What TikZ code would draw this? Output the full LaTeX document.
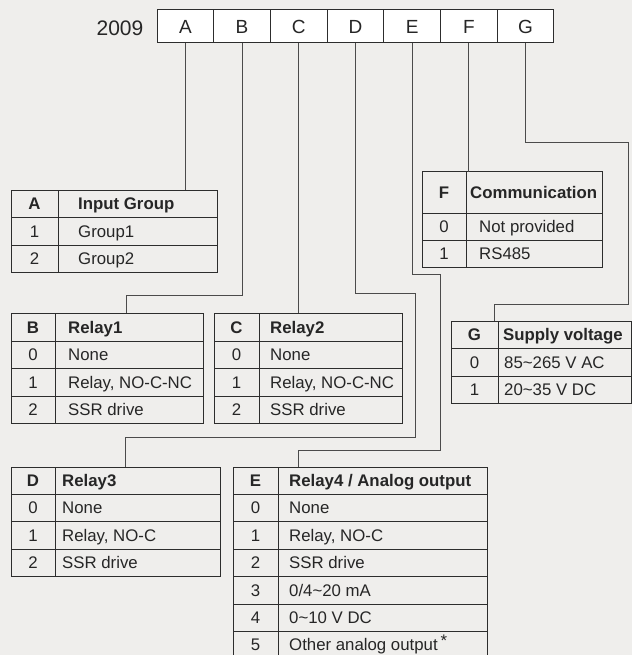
\documentclass[tikz,border=0pt]{standalone}
\usepackage{fontspec}
\setmainfont{Liberation Sans}
\definecolor{bg}{RGB}{239,238,236}
\definecolor{tline}{RGB}{45,45,45}
\definecolor{cline}{RGB}{75,75,75}
\newcommand\tl{\textasciitilde}
% #1 name, #2 x0, #3 xdiv, #4 x1, #5 ytop, #6 ybot, #7 key, #8 value, #9 pad
\newcommand\trow[9]{%
  \node[cell, minimum width=#3-#2, minimum height=#6-#5] (#1k) at (#2,#5) {};
  \node[cell, minimum width=#4-#3, minimum height=#6-#5] (#1v) at (#3,#5) {};
  \node[txt, anchor=center] (#1kt) at (#1k.center) {#7};
  \node[txt] (#1vt) at ([xshift=#9]#1v.west) {#8};
}
\begin{document}
\begin{tikzpicture}[x=1pt,y=-1pt,
  cell/.style={draw=tline, line width=1pt, inner sep=0pt, outer sep=0pt, anchor=north west},
  txt/.style={inner sep=0pt, text height=12pt, text depth=0pt, anchor=west, text=black!85, font=\fontsize{16.8}{18}\selectfont},
  conn/.style={draw=cline, line width=1pt},
  hbox/.style={draw=tline, fill=white, line width=1pt, minimum width=56.71pt, minimum height=33pt, inner sep=0pt, outer sep=0pt, anchor=north west, text=black!85, font=\fontsize{19}{21}\selectfont}]
\fill[bg] (0,0) rectangle (632,655);
\useasboundingbox (0,0) rectangle (632,655);

% header
\node[inner sep=0pt, text height=15pt, text depth=0pt, text=black!85, font=\fontsize{21}{24}\selectfont] (year) at (120,28) {2009};
\foreach \l [count=\i from 0] in {A,B,C,D,E,F,G}
  \node[hbox] (h\l) at (157+\i*56.71,10) {\l};

% table A
\trow{ah}{11}{58}{217}{190}{217}{\bfseries A}{\bfseries Input Group}{20}
\trow{aa}{11}{58}{217}{217}{245}{1}{Group1}{20}
\trow{ab}{11}{58}{217}{245}{272}{2}{Group2}{20}

% table F
\trow{fh}{422}{466}{602}{172}{213}{\bfseries F}{\bfseries Communication}{4}
\trow{fa}{422}{466}{602}{213}{240}{0}{Not provided}{13}
\trow{fb}{422}{466}{602}{240}{267}{1}{RS485}{13}

% table B
\trow{bh}{11}{55}{203}{313}{341}{\bfseries B}{\bfseries Relay1}{13}
\trow{ba}{11}{55}{203}{341}{368}{0}{None}{13}
\trow{bb}{11}{55}{203}{368}{396}{1}{Relay, NO-C-NC}{13}
\trow{bc}{11}{55}{203}{396}{423}{2}{SSR drive}{13}

% table C
\trow{ch}{214}{259}{402}{313}{341}{\bfseries C}{\bfseries Relay2}{11}
\trow{ca}{214}{259}{402}{341}{368}{0}{None}{11}
\trow{cb}{214}{259}{402}{368}{396}{1}{Relay, NO-C-NC}{11}
\trow{cc}{214}{259}{402}{396}{423}{2}{SSR drive}{11}

% table G
\trow{gh}{451}{498}{631}{321}{348}{\bfseries G}{\bfseries Supply voltage}{5}
\trow{ga}{451}{498}{631}{348}{376}{0}{85\tl265 V AC}{6}
\trow{gb}{451}{498}{631}{376}{403}{1}{20\tl35 V DC}{6}

% table D
\trow{dh}{11}{55}{220}{467}{494}{\bfseries D}{\bfseries Relay3}{7}
\trow{da}{11}{55}{220}{494}{521}{0}{None}{7}
\trow{db}{11}{55}{220}{521}{549}{1}{Relay, NO-C}{7}
\trow{dc}{11}{55}{220}{549}{576}{2}{SSR drive}{7}

% table E
\trow{eh}{233}{278}{487}{467}{494}{\bfseries E}{\bfseries Relay4 / Analog output}{11}
\trow{ea}{233}{278}{487}{494}{521}{0}{None}{11}
\trow{eb}{233}{278}{487}{521}{549}{1}{Relay, NO-C}{11}
\trow{ec}{233}{278}{487}{549}{576}{2}{SSR drive}{11}
\trow{ed}{233}{278}{487}{576}{604}{3}{0/4\tl20 mA}{11}
\trow{ee}{233}{278}{487}{604}{631}{4}{0\tl10 V DC}{11}
\trow{ef}{233}{278}{487}{631}{658}{5}{Other analog output\,\raisebox{4pt}{*}}{11}

% connectors
\draw[conn] (hA.south) -- (hA.south |- ahv.north);
\coordinate (bB) at (126,295);
\draw[conn] (hB.south) |- (bB) -- (bB |- bhv.north);
\draw[conn] (hC.south) -- (hC.south |- chv.north);
\coordinate (d1) at (415,293);
\coordinate (d2) at (125,437);
\draw[conn] (hD.south) |- (d1) |- (d2) -- (d2 |- dhv.north);
\coordinate (e1) at (440,274);
\coordinate (e2) at (298,450);
\draw[conn] (hE.south) |- (e1) |- (e2) -- (e2 |- ehv.north);
\draw[conn] (hF.south) -- (hF.south |- fhv.north);
\coordinate (g1) at (628,143);
\coordinate (g2) at (494,304);
\draw[conn] (hG.south) |- (g1) |- (g2) -- (g2 |- ghv.north);
\end{tikzpicture}
\end{document}
